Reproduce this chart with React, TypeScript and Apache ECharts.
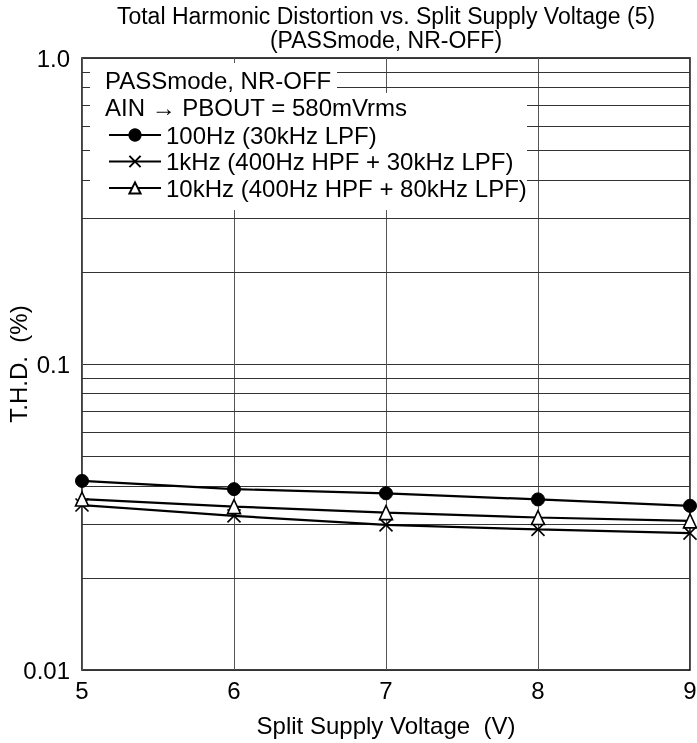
import React, { useEffect, useRef } from "react";
import * as echarts from "echarts";

const xValues = [5, 6, 7, 8, 9];
const thd100Hz = [0.0415, 0.039, 0.0378, 0.0361, 0.0344];
const thd1kHz = [0.0346, 0.0319, 0.0298, 0.0288, 0.028];
const thd10kHz = [0.0362, 0.0342, 0.0327, 0.0315, 0.0307];
const minorGridValues = [0.02, 0.03, 0.04, 0.05, 0.06, 0.07, 0.08, 0.09, 0.2, 0.3, 0.4, 0.5, 0.6, 0.7, 0.8, 0.9];
const yTickLabels: Record<string, string> = { "1": "1.0", "0.1": "0.1", "0.01": "0.01" };
const seriesNames = ["100Hz (30kHz LPF)", "1kHz (400Hz HPF + 30kHz LPF)", "10kHz (400Hz HPF + 80kHz LPF)"];
const titleLines = ["Total Harmonic Distortion vs. Split Supply Voltage (5)", "(PASSmode, NR-OFF)"];
const noteLines = ["PASSmode, NR-OFF", "AIN \u2192 PBOUT = 580mVrms"];

const FONT = "'Liberation Sans', Arial, Helvetica, sans-serif";

export default function App() {
  const ref = useRef<HTMLDivElement>(null);
  useEffect(() => {
    if (!ref.current) return;
    const chart = echarts.init(ref.current, undefined, { renderer: "svg" });
    const pair = (ys: number[]) => xValues.map((x, i) => [x, ys[i]]);
    const lineBase = {
      type: "line" as const,
      lineStyle: { color: "#000", width: 2.2 },
      z: 3,
    };
    chart.setOption({
      animation: false,
      textStyle: { fontFamily: FONT, color: "#000" },
      graphic: [
        { type: "rect", z: 10, shape: { x: 90, y: 63, width: 247, height: 30 }, style: { fill: "#fff" } },
        { type: "rect", z: 10, shape: { x: 90, y: 93, width: 437, height: 117 }, style: { fill: "#fff" } },
        {
          type: "text",
          z: 20,
          x: 105,
          y: 80,
          style: { text: noteLines[0], font: `24px ${FONT}`, fill: "#000", verticalAlign: "middle" },
        },
        {
          type: "text",
          z: 20,
          x: 105,
          y: 107,
          style: { text: noteLines[1], font: `24px ${FONT}`, fill: "#000", verticalAlign: "middle" },
        },
        {
          type: "text",
          z: 20,
          x: 386,
          y: 16,
          style: { text: titleLines[0], font: `23px ${FONT}`, fill: "#000", align: "center", verticalAlign: "middle" },
        },
        {
          type: "text",
          z: 20,
          x: 386,
          y: 40,
          style: { text: titleLines[1], font: `23px ${FONT}`, fill: "#000", align: "center", verticalAlign: "middle" },
        },
      ],
      grid: {
        left: 82,
        right: 7,
        top: 58,
        bottom: 73,
        show: true,
        borderColor: "#000",
        borderWidth: 1.5,
        backgroundColor: "#fff",
        outerBoundsMode: "none",
        containLabel: false,
      },
      xAxis: {
        type: "value",
        min: 5,
        max: 9,
        interval: 1,
        name: "Split Supply Voltage  (V)",
        nameLocation: "middle",
        nameGap: 43,
        nameMoveOverlap: false,
        nameTextStyle: { fontFamily: FONT, fontSize: 24, color: "#000" },
        axisLine: { show: false },
        axisTick: { show: false },
        axisLabel: { fontFamily: FONT, fontSize: 24, color: "#000", margin: 8 },
        splitLine: { show: true, lineStyle: { color: "#555", width: 1 } },
      },
      yAxis: {
        type: "log",
        logBase: 10,
        min: 0.01,
        max: 1,
        name: "T.H.D.  (%)",
        nameLocation: "middle",
        nameGap: 52,
        nameMoveOverlap: false,
        nameTextStyle: { fontFamily: FONT, fontSize: 24, color: "#000" },
        axisLine: { show: false },
        axisTick: { show: false },
        axisLabel: {
          fontFamily: FONT,
          fontSize: 24,
          color: "#000",
          margin: 12,
          formatter: (v: number) => {
            const k = String(Number(v.toPrecision(3)));
            return yTickLabels[k] ?? "";
          },
        },
        splitLine: { show: true, lineStyle: { color: "#333", width: 1 } },
      },
      legend: {
        orient: "vertical",
        left: 103,
        top: 118,
        itemWidth: 52,
        itemHeight: 14,
        itemGap: 2.5,
        z: 20,
        data: seriesNames,
        textStyle: { fontFamily: FONT, fontSize: 24, color: "#000", lineHeight: 24 },
      },
      series: [
        {
          ...lineBase,
          name: seriesNames[0],
          data: pair(thd100Hz),
          symbol: "circle",
          symbolSize: 13,
          itemStyle: { color: "#000", borderColor: "#000", borderWidth: 1 },
          markLine: {
            silent: true,
            symbol: ["none", "none"],
            label: { show: false },
            lineStyle: { color: "#333", width: 1, type: "solid" },
            data: minorGridValues.map((v) => ({ yAxis: v })),
            z: 1,
          },
        },
        {
          ...lineBase,
          name: seriesNames[1],
          data: pair(thd1kHz),
          symbol: "path://M0,0L10,10M10,0L0,10",
          symbolSize: 13,
          itemStyle: { color: "none", borderColor: "#000", borderWidth: 1.6 },
        },
        {
          ...lineBase,
          name: seriesNames[2],
          data: pair(thd10kHz),
          symbol: "triangle",
          symbolSize: [13, 14],
          itemStyle: { color: "#fff", borderColor: "#000", borderWidth: 1.6 },
        },
      ],
    });
    return () => chart.dispose();
  }, []);
  return <div ref={ref} style={{ position: "fixed", left: 0, top: 0, width: 697, height: 743 }} />;
}
